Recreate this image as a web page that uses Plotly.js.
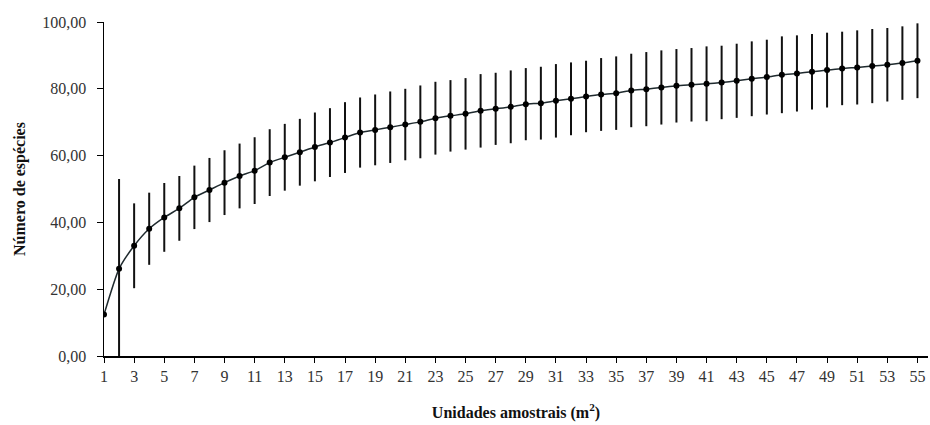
<!DOCTYPE html>
<html>
<head>
<meta charset="utf-8">
<script src="https://cdn.plot.ly/plotly-3.0.1.min.js"></script>
<style>
  html, body { margin: 0; padding: 0; background: #fff; }
  #chart { width: 930px; height: 425px; }
</style>
</head>
<body>
<div id="chart"></div>
<script>
// Sampling units (m²)
const units = Array.from({length: 55}, (_, i) => i + 1);

// Mean number of species per number of sampling units
const species = [
  12.4, 26.1, 33.0, 38.1, 41.5, 44.2, 47.5, 49.7, 51.9, 53.9,
  55.5, 57.9, 59.5, 61.0, 62.6, 63.9, 65.4, 66.9, 67.7, 68.5,
  69.3, 70.1, 71.2, 71.9, 72.5, 73.4, 74.0, 74.6, 75.4, 75.7,
  76.4, 77.0, 77.7, 78.3, 78.7, 79.5, 79.9, 80.4, 80.9, 81.2,
  81.5, 81.9, 82.4, 83.0, 83.5, 84.2, 84.6, 85.1, 85.6, 86.1,
  86.4, 86.8, 87.2, 87.7, 88.4
];

// Standard deviation (error bars)
const stdev = [
  0.0, 26.9, 12.7, 10.8, 10.3, 9.7, 9.5, 9.6, 9.7, 9.7,
  10.0, 10.0, 10.0, 10.0, 10.3, 10.3, 10.6, 10.5, 10.6, 10.7,
  10.7, 10.9, 10.9, 10.7, 10.7, 11.0, 10.8, 10.9, 10.8, 10.9,
  11.0, 10.9, 10.7, 10.9, 11.0, 11.0, 11.1, 11.1, 11.0, 11.0,
  11.2, 11.0, 11.1, 11.2, 11.2, 11.5, 11.4, 11.3, 11.2, 11.0,
  11.1, 11.1, 11.0, 11.0, 11.2
];

const xTickVals = units.filter(v => v % 2 === 1);
const yTickVals = [0, 20, 40, 60, 80, 100];

const serif = 'Liberation Serif';

const trace = {
  x: units,
  y: species,
  type: 'scatter',
  mode: 'lines+markers',
  line: { color: '#1f2a2e', width: 1.5, shape: 'spline', smoothing: 0.6 },
  marker: { color: '#000', size: 6 },
  error_y: {
    type: 'data',
    array: stdev,
    visible: true,
    color: '#111',
    thickness: 2,
    width: 0
  },
  hoverinfo: 'x+y'
};

const layout = {
  width: 930,
  height: 425,
  margin: { l: 104, r: 2, t: 22, b: 69 },
  paper_bgcolor: '#fff',
  plot_bgcolor: '#fff',
  separators: ',.',
  showlegend: false,
  font: { family: serif, size: 16, color: '#333' },
  xaxis: {
    range: [1, 55.7],
    tickvals: xTickVals,
    ticks: 'outside',
    ticklen: 5,
    tickwidth: 1,
    tickcolor: '#000',
    showline: true,
    linecolor: '#000',
    linewidth: 1.5,
    showgrid: false,
    zeroline: false,
    tickfont: { family: serif, size: 16, color: '#333' },
    title: {
      text: 'Unidades amostrais (m<sup>2</sup>)',
      font: { family: serif, size: 16, color: '#111', weight: 'bold' },
      standoff: 23
    },
    automargin: false
  },
  yaxis: {
    range: [0, 100],
    tickvals: yTickVals,
    tickformat: '.2f',
    ticks: 'outside',
    ticklen: 6,
    tickwidth: 1,
    tickcolor: '#000',
    ticklabelstandoff: 7,
    showline: true,
    linecolor: '#000',
    linewidth: 1.5,
    showgrid: false,
    zeroline: false,
    tickfont: { family: serif, size: 16, color: '#333' },
    title: {
      text: 'Número de espécies',
      font: { family: serif, size: 16, color: '#111', weight: 'bold' },
      standoff: 12
    },
    automargin: false
  }
};

Plotly.newPlot('chart', [trace], layout, { displayModeBar: false, staticPlot: true });
</script>
</body>
</html>
